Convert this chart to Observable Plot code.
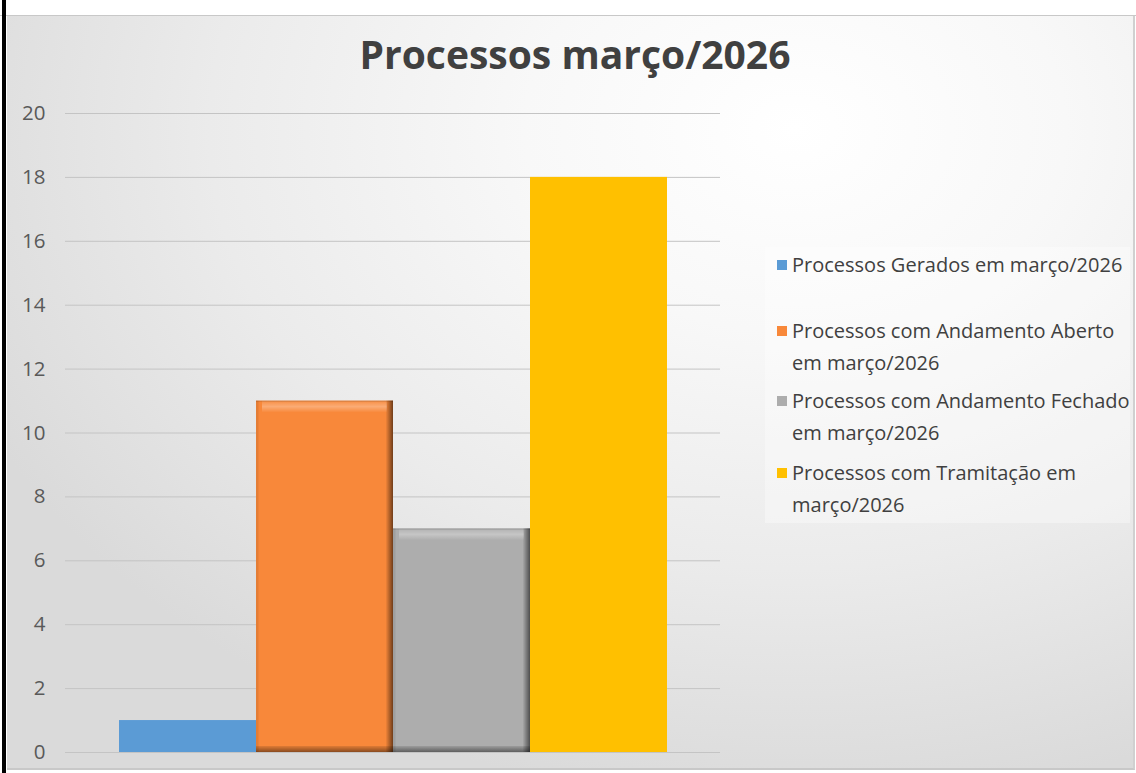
<!DOCTYPE html>
<html>
<head>
<meta charset="utf-8">
<script src="https://cdn.jsdelivr.net/npm/d3@7"></script>
<script src="https://cdn.jsdelivr.net/npm/@observablehq/plot@0.6"></script>
<style>
  html, body { margin: 0; padding: 0; background: #ffffff; }
  #wrap { position: relative; width: 1136px; height: 773px; overflow: hidden; background: #ffffff; font-family: "Open Sans", "Noto Sans", sans-serif; }
  #sheet { position: absolute; left: 0; top: 0; width: 1136px; height: 15px; background: #fff; border-bottom: 1px solid #c8c8c8; }
  #chart { position: absolute; left: 7px; top: 16px; width: 1126px; height: 752px;
    background: radial-gradient(ellipse 80% 90% at 70% 15%, #ffffff 0%, #f8f8f8 30%, #ebebeb 65%, #dadada 100%);
    border-right: 2px solid #d0d0d0; border-bottom: 2px solid #c8c8c8; }
  #leftbar { position: absolute; left: 2px; top: 0; width: 4px; height: 773px; background: #000; }
  #title { position: absolute; left: 0; width: 1150px; top: 27px; text-align: center; font-size: 39px; font-weight: 700; color: #404040; }
  #plot { position: absolute; left: 0; top: 0; }
  #legend { position: absolute; left: 765px; top: 247px; width: 365px; height: 276px; background: rgba(255,255,255,0.35); }
  .item { position: absolute; left: 12px; font-size: 20px; line-height: 32px; color: #404040; }
  .sw { position: absolute; left: 0; top: 11px; width: 10px; height: 10px; }
  .txt { position: absolute; left: 15px; top: 0; white-space: nowrap; }
</style>
</head>
<body>
<div id="wrap">
  <div id="sheet"></div>
  <div id="chart"></div>
  <div id="leftbar"></div>
  <div id="title">Processos março/2026</div>
  <div id="plot"></div>
  <div id="legend"></div>
</div>
<svg width="0" height="0" style="position:absolute">
  <defs>
    <linearGradient id="edgeR" x1="0" x2="1" y1="0" y2="0">
      <stop offset="0" stop-color="#000" stop-opacity="0"></stop>
      <stop offset="1" stop-color="#000" stop-opacity="0.55"></stop>
    </linearGradient>
    <linearGradient id="edgeB" x1="0" x2="0" y1="0" y2="1">
      <stop offset="0" stop-color="#000" stop-opacity="0.1"></stop>
      <stop offset="1" stop-color="#000" stop-opacity="0.45"></stop>
    </linearGradient>
    <linearGradient id="edgeT" x1="0" x2="0" y1="0" y2="1">
      <stop offset="0" stop-color="#fff" stop-opacity="0.05"></stop>
      <stop offset="0.5" stop-color="#fff" stop-opacity="0.3"></stop>
      <stop offset="1" stop-color="#fff" stop-opacity="0"></stop>
    </linearGradient>
  </defs>
</svg>
<script>
const series = [
  "Processos Gerados em março/2026",
  "Processos com Andamento Aberto em março/2026",
  "Processos com Andamento Fechado em março/2026",
  "Processos com Tramitação em março/2026"
];
const legendLines = [
  ["Processos Gerados em março/2026"],
  ["Processos com Andamento Aberto", "em março/2026"],
  ["Processos com Andamento Fechado", "em março/2026"],
  ["Processos com Tramitação em", "março/2026"]
];
const values = [1, 11, 7, 18];
const colors = ["#5B9BD5", "#F8883A", "#ADADAD", "#FFC000"];
const yTicks = [0, 2, 4, 6, 8, 10, 12, 14, 16, 18, 20];

const data = series.map((s, i) => ({series: s, value: values[i], color: colors[i]}));
const bevelled = data.filter((d, i) => i === 1 || i === 2);

// layout (pixels)
const W = 760, ML = 65, MR = 40, IL = 53, IR = 52;
const bw = (W - ML - MR - IL - IR) / series.length;
const pxPerUnit = (773 - 113 - 21) / 20;
const edgeH = 6 / pxPerUnit, topH = 12 / pxPerUnit;

const plot = Plot.plot({
  width: W,
  height: 773,
  marginTop: 113,
  marginBottom: 21,
  marginLeft: ML,
  marginRight: MR,
  style: {background: "transparent", fontFamily: "Open Sans, sans-serif", color: "#595959"},
  x: {domain: series, padding: 0, insetLeft: IL, insetRight: IR, axis: null},
  y: {domain: [0, 20], ticks: yTicks, label: null},
  marks: [
    Plot.ruleY(yTicks, {stroke: "#c4c4c4", strokeWidth: 1}),
    Plot.axisY({ticks: yTicks, tickSize: 0, tickPadding: 20, label: null, fill: "#595959", fontSize: 20.5}),
    Plot.barY(data, {x: "series", y: "value", fill: "color"}),
    Plot.rectY(bevelled, {x: "series", y1: d => d.value - topH, y2: "value", fill: "url(#edgeT)", insetLeft: 6, insetRight: 6}),
    Plot.barY(bevelled, {x: "series", y: "value", fill: "url(#edgeR)", insetLeft: bw - 8}),
    Plot.barY(bevelled, {x: "series", y: "value", fill: "#000", fillOpacity: 0.08, insetRight: bw - 3}),
    Plot.rectY(bevelled, {x: "series", y1: 0, y2: edgeH, fill: "url(#edgeB)"}),
    Plot.rectY(bevelled, {x: "series", y1: d => d.value - 1.5 / pxPerUnit, y2: "value", fill: "#000", fillOpacity: 0.1})
  ]
});
document.getElementById("plot").appendChild(plot);

const legend = document.getElementById("legend");
const tops = [2, 68, 138, 210];
legendLines.forEach((lines, i) => {
  const it = document.createElement("div");
  it.className = "item";
  it.style.top = tops[i] + "px";
  const sw = document.createElement("div");
  sw.className = "sw";
  sw.style.background = colors[i];
  it.appendChild(sw);
  const t = document.createElement("div");
  t.className = "txt";
  t.innerHTML = lines.join("<br>");
  it.appendChild(t);
  legend.appendChild(it);
});
</script>
</body>
</html>
